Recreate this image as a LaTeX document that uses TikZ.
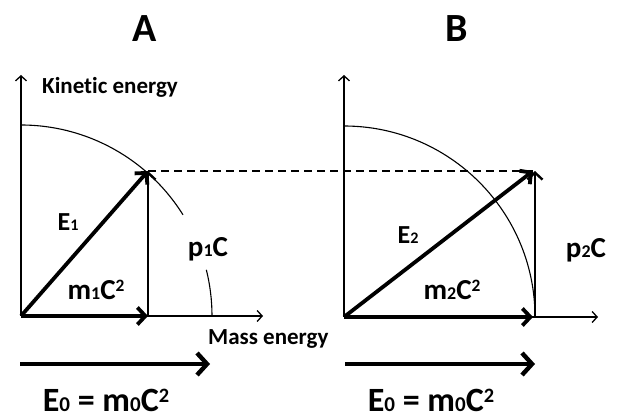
\documentclass[tikz,border=0pt]{standalone}
\usepackage{fontspec}
\setmainfont{Carlito}[RawFeature=-liga]
\usetikzlibrary{arrows.meta}
\newcommand\lsub[1]{\scalebox{0.62}{#1}}
\newcommand\lsup[1]{\raisebox{0.55ex}{\scalebox{0.6}{#1}}}
\begin{document}
\begin{tikzpicture}[x=1pt,y=1pt,font=\bfseries,
  axisline/.style={line width=1.3pt,-{Straight Barb[length=5pt,width=11pt]}},
  vecline/.style={line width=3.8pt,-{Straight Barb[length=8pt,width=17pt]}},
  compline/.style={line width=2.4pt,-{Straight Barb[length=7pt,width=15pt]}},
  baseline/.style={line width=4.4pt,-{Straight Barb[length=10pt,width=22pt]}},
  arcline/.style={line width=1.1pt},
  title/.style={font=\fontsize{40}{44}\selectfont\bfseries},
  axlabel/.style={font=\fontsize{23}{25}\selectfont\bfseries,anchor=west,inner sep=0pt},
  elabel/.style={font=\fontsize{26}{28}\selectfont\bfseries,inner sep=0pt},
  qlabel/.style={font=\fontsize{29}{31}\selectfont\bfseries,inner sep=0pt},
  zlabel/.style={font=\fontsize{34}{36}\selectfont\bfseries,inner sep=0pt}]
\useasboundingbox (0,0) rectangle (621,-419);
% ---------- panel A ----------
\coordinate (OA) at (21,-316);
\coordinate (YA) at (21,-75);
\coordinate (XA) at (263,-316);
\coordinate (TA) at (148,-171);
\coordinate (FA) at (148,-316);
\draw[axisline] (OA) -- (YA);
\draw[axisline] (OA) -- (XA);
\draw[arcline] (OA) ++(90:191) arc[start angle=90,end angle=32,radius=191];
\draw[arcline] (OA) ++(14:191) arc[start angle=14,end angle=0,radius=191];
\draw[compline] (FA) -- (TA);
\draw[vecline] (OA) -- (FA);
\draw[vecline] (OA) -- (TA);
% ---------- panel B ----------
\coordinate (OB) at (344,-317);
\coordinate (YB) at (344,-75);
\coordinate (XB) at (598,-317);
\coordinate (TB) at (533,-171);
\coordinate (FB) at (533,-317);
\coordinate (VB0) at (535,-317);
\coordinate (VB1) at (535,-171);
\draw[axisline] (OB) -- (YB);
\draw[axisline] (OB) -- (XB);
\draw[arcline] (OB) ++(90:191) arc[start angle=90,end angle=0,radius=191];
\draw[compline] (VB0) -- (VB1);
\draw[vecline] (OB) -- (FB);
\draw[vecline] (OB) -- (TB);
% ---------- dashed link ----------
\draw[line width=1.2pt,dash pattern=on 8pt off 5pt] (TA) -- (TB);
% ---------- bottom arrows ----------
\coordinate (BA0) at (20,-364);
\coordinate (BA1) at (210,-364);
\coordinate (BB0) at (345,-364);
\coordinate (BB1) at (535,-364);
\draw[baseline] (BA0) -- (BA1);
\draw[baseline] (BB0) -- (BB1);
% ---------- labels ----------
\node[title] (ta) at (145,-29) {A};
\node[title] (tb) at (457,-29) {B};
\node[axlabel] (ke) at (42,-87) {Kinetic energy};
\node[axlabel] (me) at (208,-339) {Mass energy};
\node[elabel] (e1) at (68,-222) {E\lsub{1}};
\node[qlabel] (m1) at (96,-290) {m\lsub{1}C\lsup{2}};
\node[qlabel] (p1) at (208,-249) {p\lsub{1}C};
\node[elabel] (e2) at (408,-235) {E\lsub{2}};
\node[qlabel] (m2) at (452,-290) {m\lsub{2}C\lsup{2}};
\node[qlabel] (p2) at (586,-250) {p\lsub{2}C};
\node[zlabel] (za) at (106,-400) {E\lsub{0} = m\lsub{0}C\lsup{2}};
\node[zlabel] (zb) at (431,-400) {E\lsub{0} = m\lsub{0}C\lsup{2}};
\end{tikzpicture}
\end{document}
